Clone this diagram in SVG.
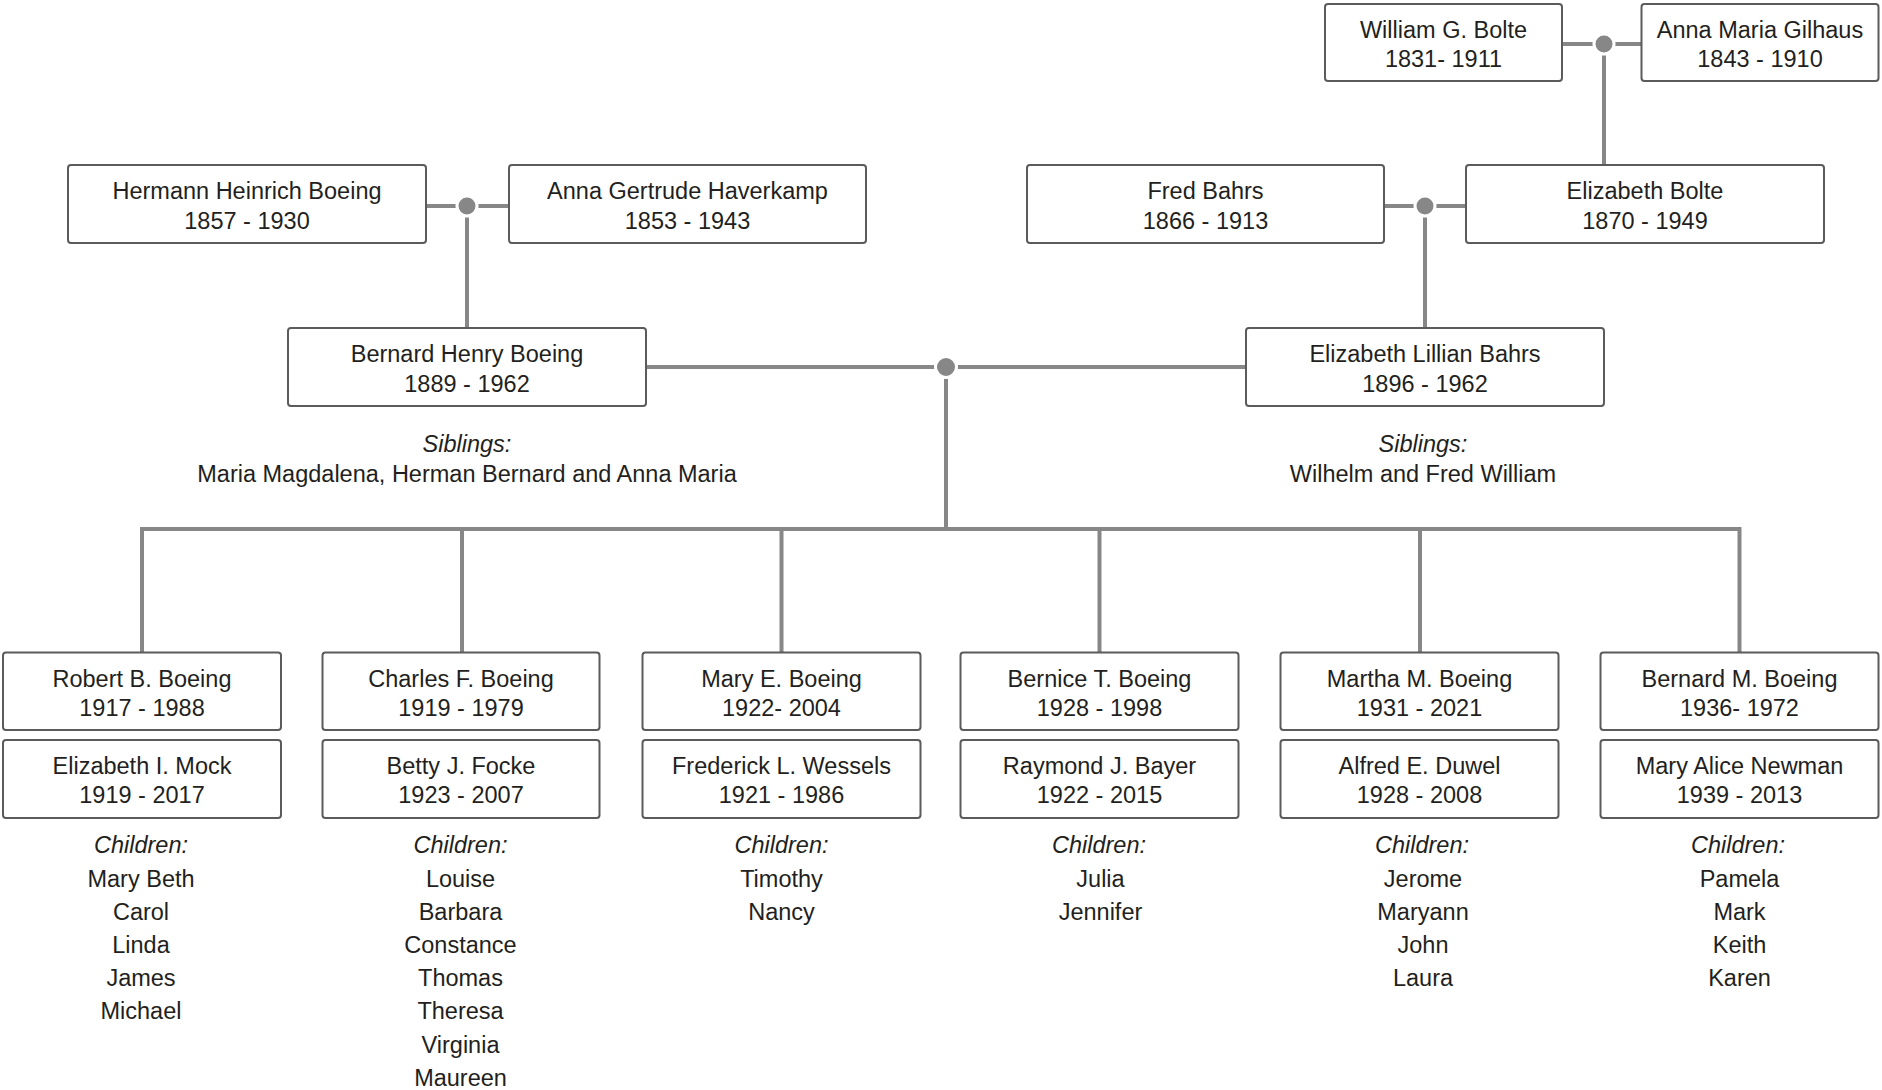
<svg xmlns="http://www.w3.org/2000/svg" width="1882" height="1090" viewBox="0 0 1882 1090">
<style>
.bx{fill:#fff;stroke:#5b5b5b;stroke-width:2}
.t{font-family:"Liberation Sans",Arial,sans-serif;font-size:23.5px;fill:#231f20;text-anchor:middle}
.i{font-style:italic}
.ln{fill:none;stroke:#878787;stroke-width:4}
.dot{fill:#878787;stroke:#fff;stroke-width:3}
</style>
<rect width="1882" height="1090" fill="#fff"/>
<g id="connectors">
<path class="ln" d="M1562,44H1641.5M1604,44V165"/>
<path class="ln" d="M426,206H509M467,206V328"/>
<path class="ln" d="M1384,206H1466M1425,206V328"/>
<path class="ln" d="M646,367H1246M946,367V529"/>
<path class="ln" d="M142,652.5V529H1739.5V652.5M462,529V652.5M781.5,529V652.5M1099.5,529V652.5M1420,529V652.5"/>
<circle class="dot" cx="1604" cy="44" r="10"/>
<circle class="dot" cx="467" cy="206" r="10"/>
<circle class="dot" cx="1425" cy="206" r="10"/>
<circle class="dot" cx="946" cy="367" r="10.5"/>
</g>
<g id="william"><rect class="bx" x="1325" y="4" width="237" height="77" rx="3"/><text class="t"><tspan x="1443.5" y="37.5">William G. Bolte</tspan><tspan x="1443.5" y="67">1831- 1911</tspan></text></g>
<g id="annagilhaus"><rect class="bx" x="1641.5" y="4" width="237" height="77" rx="3"/><text class="t"><tspan x="1760" y="37.5">Anna Maria Gilhaus</tspan><tspan x="1760" y="67">1843 - 1910</tspan></text></g>
<g id="hermann"><rect class="bx" x="68" y="165" width="358" height="78" rx="3"/><text class="t"><tspan x="247" y="199">Hermann Heinrich Boeing</tspan><tspan x="247" y="228.5">1857 - 1930</tspan></text></g>
<g id="annagertrude"><rect class="bx" x="509" y="165" width="357" height="78" rx="3"/><text class="t"><tspan x="687.5" y="199">Anna Gertrude Haverkamp</tspan><tspan x="687.5" y="228.5">1853 - 1943</tspan></text></g>
<g id="fred"><rect class="bx" x="1027" y="165" width="357" height="78" rx="3"/><text class="t"><tspan x="1205.5" y="199">Fred Bahrs</tspan><tspan x="1205.5" y="228.5">1866 - 1913</tspan></text></g>
<g id="elizabethbolte"><rect class="bx" x="1466" y="165" width="358" height="78" rx="3"/><text class="t"><tspan x="1645" y="199">Elizabeth Bolte</tspan><tspan x="1645" y="228.5">1870 - 1949</tspan></text></g>
<g id="bernardhenry"><rect class="bx" x="288" y="328" width="358" height="78" rx="3"/><text class="t"><tspan x="467" y="362">Bernard Henry Boeing</tspan><tspan x="467" y="391.5">1889 - 1962</tspan></text></g>
<g id="elizabethlillian"><rect class="bx" x="1246" y="328" width="358" height="78" rx="3"/><text class="t"><tspan x="1425" y="362">Elizabeth Lillian Bahrs</tspan><tspan x="1425" y="391.5">1896 - 1962</tspan></text></g>
<g id="siblings-left"><text class="t"><tspan class="i" x="467" y="451.5">Siblings:</tspan><tspan x="467" y="481.5">Maria Magdalena, Herman Bernard and Anna Maria</tspan></text></g>
<g id="siblings-right"><text class="t"><tspan class="i" x="1423" y="451.5">Siblings:</tspan><tspan x="1423" y="481.5">Wilhelm and Fred William</tspan></text></g>

<g id="robert"><rect class="bx" x="3" y="652.5" width="278" height="77.5" rx="3"/><text class="t"><tspan x="142" y="686.5">Robert B. Boeing</tspan><tspan x="142" y="716">1917 - 1988</tspan></text></g>
<g id="elizabethmock"><rect class="bx" x="3" y="740" width="278" height="78" rx="3"/><text class="t"><tspan x="142" y="773.5">Elizabeth I. Mock</tspan><tspan x="142" y="803">1919 - 2017</tspan></text></g>
<g id="children-robert"><text class="t"><tspan class="i" x="141" y="853">Children:</tspan><tspan x="141" y="886.5">Mary Beth</tspan><tspan x="141" y="919.7">Carol</tspan><tspan x="141" y="952.9">Linda</tspan><tspan x="141" y="986.1">James</tspan><tspan x="141" y="1019.3">Michael</tspan></text></g>

<g id="charles"><rect class="bx" x="322.5" y="652.5" width="277" height="77.5" rx="3"/><text class="t"><tspan x="461" y="686.5">Charles F. Boeing</tspan><tspan x="461" y="716">1919 - 1979</tspan></text></g>
<g id="betty"><rect class="bx" x="322.5" y="740" width="277" height="78" rx="3"/><text class="t"><tspan x="461" y="773.5">Betty J. Focke</tspan><tspan x="461" y="803">1923 - 2007</tspan></text></g>
<g id="children-charles"><text class="t"><tspan class="i" x="460.5" y="853">Children:</tspan><tspan x="460.5" y="886.5">Louise</tspan><tspan x="460.5" y="919.7">Barbara</tspan><tspan x="460.5" y="952.9">Constance</tspan><tspan x="460.5" y="986.1">Thomas</tspan><tspan x="460.5" y="1019.3">Theresa</tspan><tspan x="460.5" y="1052.5">Virginia</tspan><tspan x="460.5" y="1085.7">Maureen</tspan></text></g>

<g id="mary"><rect class="bx" x="642.5" y="652.5" width="278" height="77.5" rx="3"/><text class="t"><tspan x="781.5" y="686.5">Mary E. Boeing</tspan><tspan x="781.5" y="716">1922- 2004</tspan></text></g>
<g id="frederick"><rect class="bx" x="642.5" y="740" width="278" height="78" rx="3"/><text class="t"><tspan x="781.5" y="773.5">Frederick L. Wessels</tspan><tspan x="781.5" y="803">1921 - 1986</tspan></text></g>
<g id="children-mary"><text class="t"><tspan class="i" x="781.5" y="853">Children:</tspan><tspan x="781.5" y="886.5">Timothy</tspan><tspan x="781.5" y="919.7">Nancy</tspan></text></g>

<g id="bernice"><rect class="bx" x="960.5" y="652.5" width="278" height="77.5" rx="3"/><text class="t"><tspan x="1099.5" y="686.5">Bernice T. Boeing</tspan><tspan x="1099.5" y="716">1928 - 1998</tspan></text></g>
<g id="raymond"><rect class="bx" x="960.5" y="740" width="278" height="78" rx="3"/><text class="t"><tspan x="1099.5" y="773.5">Raymond J. Bayer</tspan><tspan x="1099.5" y="803">1922 - 2015</tspan></text></g>
<g id="children-bernice"><text class="t"><tspan class="i" x="1099" y="853">Children:</tspan><tspan x="1100.5" y="886.5">Julia</tspan><tspan x="1100.5" y="919.7">Jennifer</tspan></text></g>

<g id="martha"><rect class="bx" x="1280.5" y="652.5" width="278" height="77.5" rx="3"/><text class="t"><tspan x="1419.5" y="686.5">Martha M. Boeing</tspan><tspan x="1419.5" y="716">1931 - 2021</tspan></text></g>
<g id="alfred"><rect class="bx" x="1280.5" y="740" width="278" height="78" rx="3"/><text class="t"><tspan x="1419.5" y="773.5">Alfred E. Duwel</tspan><tspan x="1419.5" y="803">1928 - 2008</tspan></text></g>
<g id="children-martha"><text class="t"><tspan class="i" x="1422" y="853">Children:</tspan><tspan x="1423" y="886.5">Jerome</tspan><tspan x="1423" y="919.7">Maryann</tspan><tspan x="1423" y="952.9">John</tspan><tspan x="1423" y="986.1">Laura</tspan></text></g>

<g id="bernardm"><rect class="bx" x="1600.5" y="652.5" width="278" height="77.5" rx="3"/><text class="t"><tspan x="1739.5" y="686.5">Bernard M. Boeing</tspan><tspan x="1739.5" y="716">1936- 1972</tspan></text></g>
<g id="maryalice"><rect class="bx" x="1600.5" y="740" width="278" height="78" rx="3"/><text class="t"><tspan x="1739.5" y="773.5">Mary Alice Newman</tspan><tspan x="1739.5" y="803">1939 - 2013</tspan></text></g>
<g id="children-bernardm"><text class="t"><tspan class="i" x="1738" y="853">Children:</tspan><tspan x="1739.5" y="886.5">Pamela</tspan><tspan x="1739.5" y="919.7">Mark</tspan><tspan x="1739.5" y="952.9">Keith</tspan><tspan x="1739.5" y="986.1">Karen</tspan></text></g>
</svg>
